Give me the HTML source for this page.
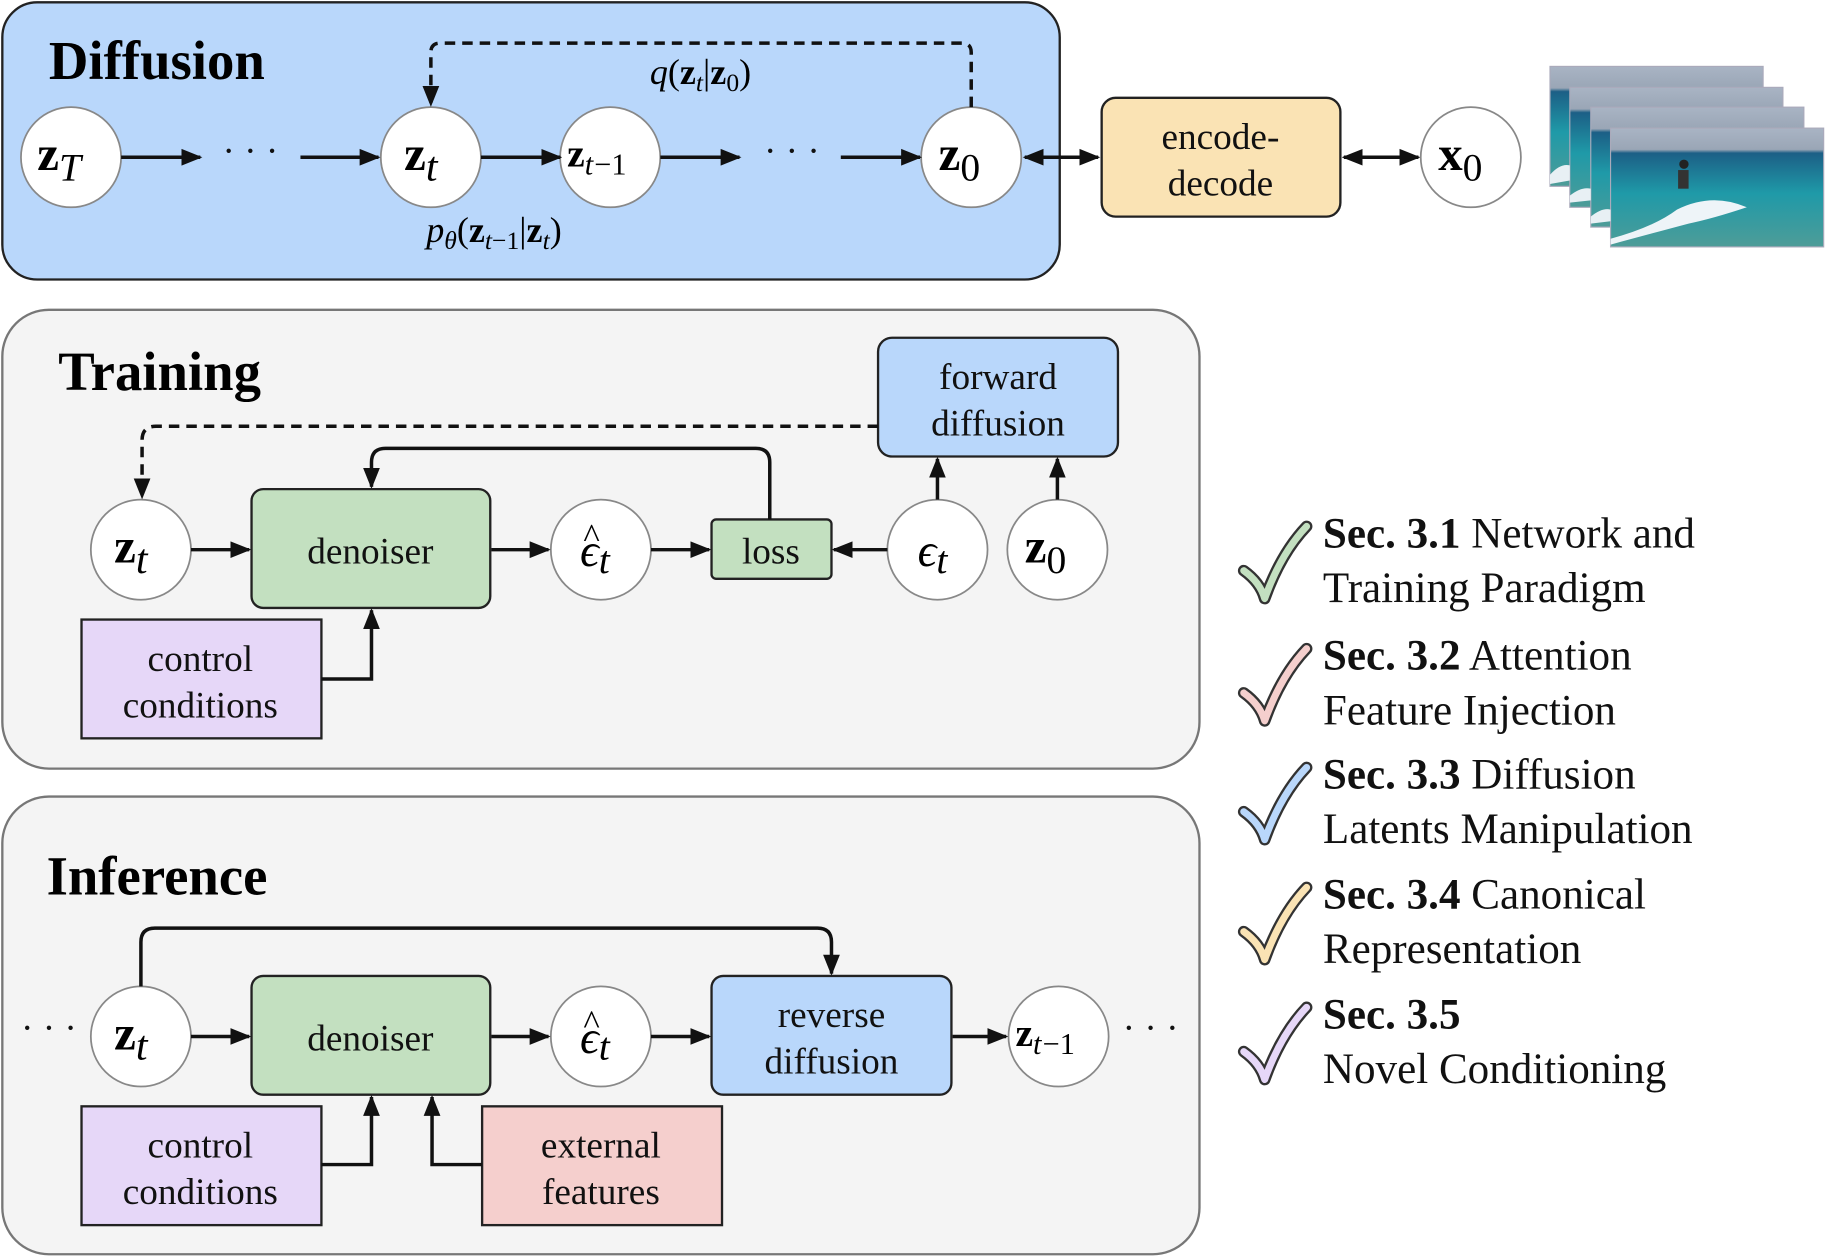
<!DOCTYPE html>
<html><head><meta charset="utf-8"><style>html,body{margin:0;padding:0;background:#fff}svg{display:block}</style></head>
<body>
<svg width="1826" height="1256" viewBox="0 0 1568 1078.5" xmlns="http://www.w3.org/2000/svg" font-family="Liberation Serif, serif">
<defs>
<marker id="a" viewBox="0 0 10 10" refX="9" refY="5" markerWidth="6" markerHeight="6" orient="auto-start-reverse"><path d="M0,1 L10,5 L0,9 z" fill="#111"/></marker>
<linearGradient id="sea" x1="0" y1="0" x2="0" y2="1">
<stop offset="0" stop-color="#a9b4c4"/><stop offset="0.18" stop-color="#9aa6b6"/><stop offset="0.21" stop-color="#1c5f86"/><stop offset="0.55" stop-color="#1f9aa8"/><stop offset="1" stop-color="#4e9c98"/></linearGradient>
</defs>
<style>
.c{fill:#fff;stroke:#888;stroke-width:1.5}
.l{stroke:#111;stroke-width:3;fill:none}
.t{font-size:32px;text-anchor:middle;fill:#111}
.m{font-size:42px;font-weight:bold}
</style>
<!-- Diffusion -->
<rect x="2" y="2" width="908" height="238" rx="30" fill="#b9d7fb" stroke="#222" stroke-width="2"/>
<text x="42" y="68" font-size="47" font-weight="bold">Diffusion</text>
<g class="c"><circle cx="61" cy="135" r="43"/><circle cx="370" cy="135" r="43"/><circle cx="524" cy="135" r="43"/><circle cx="834" cy="135" r="43"/></g>
<text x="32" y="146"><tspan class="m">z</tspan><tspan font-size="34" font-style="italic" dy="9">T</tspan></text>
<text x="347" y="146"><tspan class="m">z</tspan><tspan font-size="36" font-style="italic" dy="9">t</tspan></text>
<text x="487" y="143"><tspan font-size="34" font-weight="bold">z</tspan><tspan font-size="26" font-style="italic" dy="7">t</tspan><tspan font-size="26" dx="1">−1</tspan></text>
<text x="806" y="146"><tspan class="m">z</tspan><tspan font-size="34" dy="9">0</tspan></text>
<g class="l" marker-end="url(#a)"><line x1="104" y1="135" x2="172" y2="135"/><line x1="258" y1="135" x2="325" y2="135"/><line x1="413" y1="135" x2="481" y2="135"/><line x1="567" y1="135" x2="635" y2="135"/><line x1="722" y1="135" x2="790" y2="135"/></g>
<text x="215" y="140" class="t">· · ·</text><text x="680" y="140" class="t">· · ·</text>
<path d="M834,92 V45 Q834,37 826,37 H378 Q370,37 370,45 V90" class="l" stroke-dasharray="9,6" marker-end="url(#a)"/>
<text x="558" y="72" font-size="31"><tspan font-style="italic">q</tspan>(<tspan font-weight="bold">z</tspan><tspan font-size="22" font-style="italic" dy="6">t</tspan><tspan dy="-6">|</tspan><tspan font-weight="bold">z</tspan><tspan font-size="22" dy="6">0</tspan><tspan dy="-6">)</tspan></text>
<text x="366" y="208" font-size="31"><tspan font-style="italic">p</tspan><tspan font-size="22" font-style="italic" dy="6">θ</tspan><tspan dy="-6">(</tspan><tspan font-weight="bold">z</tspan><tspan font-size="22" font-style="italic" dy="6">t</tspan><tspan font-size="22">−1</tspan><tspan dy="-6">|</tspan><tspan font-weight="bold">z</tspan><tspan font-size="22" font-style="italic" dy="6">t</tspan><tspan dy="-6">)</tspan></text>
<line x1="880" y1="135" x2="943" y2="135" class="l" marker-start="url(#a)" marker-end="url(#a)"/>
<rect x="946" y="84" width="205" height="102" rx="12" fill="#fae3b4" stroke="#222" stroke-width="2"/>
<text x="1048" y="128" class="t">encode-</text><text x="1048" y="168" class="t">decode</text>
<line x1="1154" y1="135" x2="1218" y2="135" class="l" marker-start="url(#a)" marker-end="url(#a)"/>
<circle cx="1263" cy="135" r="43" class="c"/>
<text x="1235" y="146"><tspan class="m">x</tspan><tspan font-size="34" dy="9">0</tspan></text>
<g stroke="#aab" stroke-width="1">
<rect x="1331" y="57" width="183" height="103" fill="url(#sea)"/>
<rect x="1348" y="75" width="183" height="103" fill="url(#sea)"/>
<rect x="1366" y="92" width="183" height="103" fill="url(#sea)"/>
<rect x="1383" y="110" width="183" height="102" fill="url(#sea)"/>
</g>
<path d="M1331,150 Q1340,140 1348,142 V155 L1331,158z M1348,168 Q1358,160 1366,162 V172 L1348,174z M1366,186 Q1376,178 1383,180 V190 L1366,192z" fill="#e8f0f4"/>
<path d="M1383,205 Q1420,195 1440,180 Q1470,165 1500,178 Q1470,188 1450,192 Q1420,200 1383,210z" fill="#eef4f8"/>
<circle cx="1446" cy="141" r="4" fill="#222"/><rect x="1441" y="146" width="9" height="16" fill="#333"/>

<!-- Training -->
<rect x="2" y="266" width="1028" height="394" rx="40" fill="#f4f4f4" stroke="#777" stroke-width="2"/>
<text x="50" y="335" font-size="47" font-weight="bold">Training</text>
<rect x="754" y="290" width="206" height="102" rx="12" fill="#b9d7fb" stroke="#222" stroke-width="2"/>
<text x="857" y="334" class="t">forward</text><text x="857" y="374" class="t">diffusion</text>
<g class="c"><circle cx="121" cy="472" r="43"/><circle cx="516" cy="472" r="43"/><circle cx="805" cy="472" r="43"/><circle cx="908" cy="472" r="43"/></g>
<text x="98" y="483"><tspan class="m">z</tspan><tspan font-size="36" font-style="italic" dy="9">t</tspan></text>
<text x="498" y="486" font-size="40" font-style="italic">ϵ<tspan font-size="34" dy="6">t</tspan></text>
<text x="501" y="470" font-size="30">^</text>
<text x="788" y="486" font-size="40" font-style="italic">ϵ<tspan font-size="34" dy="6">t</tspan></text>
<text x="880" y="483"><tspan class="m">z</tspan><tspan font-size="34" dy="9">0</tspan></text>
<rect x="216" y="420" width="205" height="102" rx="10" fill="#c3e0c0" stroke="#222" stroke-width="2"/>
<text x="318" y="484" class="t">denoiser</text>
<rect x="611" y="446" width="103" height="51" rx="4" fill="#c3e0c0" stroke="#222" stroke-width="2"/>
<text x="662" y="484" class="t">loss</text>
<rect x="70" y="532" width="206" height="102" fill="#e6d7f8" stroke="#222" stroke-width="2"/>
<text x="172" y="576" class="t">control</text><text x="172" y="616" class="t">conditions</text>
<g class="l" marker-end="url(#a)">
<line x1="164" y1="472" x2="214" y2="472"/><line x1="422" y1="472" x2="471" y2="472"/><line x1="559" y1="472" x2="609" y2="472"/><line x1="762" y1="472" x2="716" y2="472"/>
<line x1="805" y1="429" x2="805" y2="394"/><line x1="908" y1="429" x2="908" y2="394"/>
<path d="M661,446 V397 Q661,385 649,385 H331 Q319,385 319,397 V418"/>
<path d="M276,583 H319 V524"/>
<path d="M754,366 H134 Q122,366 122,378 V427" stroke-dasharray="9,6"/>
</g>

<!-- Inference -->
<rect x="2" y="684" width="1028" height="393" rx="40" fill="#f4f4f4" stroke="#777" stroke-width="2"/>
<text x="40" y="768" font-size="47" font-weight="bold">Inference</text>
<text x="42" y="893" class="t">· · ·</text><text x="988" y="893" class="t">· · ·</text>
<g class="c"><circle cx="121" cy="890" r="43"/><circle cx="516" cy="890" r="43"/><circle cx="909" cy="890" r="43"/></g>
<text x="98" y="901"><tspan class="m">z</tspan><tspan font-size="36" font-style="italic" dy="9">t</tspan></text>
<text x="498" y="904" font-size="40" font-style="italic">ϵ<tspan font-size="34" dy="6">t</tspan></text>
<text x="501" y="888" font-size="30">^</text>
<text x="872" y="898"><tspan font-size="34" font-weight="bold">z</tspan><tspan font-size="26" font-style="italic" dy="7">t</tspan><tspan font-size="26" dx="1">−1</tspan></text>
<rect x="216" y="838" width="205" height="102" rx="10" fill="#c3e0c0" stroke="#222" stroke-width="2"/>
<text x="318" y="902" class="t">denoiser</text>
<rect x="611" y="838" width="206" height="102" rx="10" fill="#b9d7fb" stroke="#222" stroke-width="2"/>
<text x="714" y="882" class="t">reverse</text><text x="714" y="922" class="t">diffusion</text>
<rect x="70" y="950" width="206" height="102" fill="#e6d7f8" stroke="#222" stroke-width="2"/>
<text x="172" y="994" class="t">control</text><text x="172" y="1034" class="t">conditions</text>
<rect x="414" y="950" width="206" height="102" fill="#f5cfcd" stroke="#222" stroke-width="2"/>
<text x="516" y="994" class="t">external</text><text x="516" y="1034" class="t">features</text>
<g class="l" marker-end="url(#a)">
<line x1="164" y1="890" x2="214" y2="890"/><line x1="422" y1="890" x2="471" y2="890"/><line x1="559" y1="890" x2="609" y2="890"/><line x1="818" y1="890" x2="864" y2="890"/>
<path d="M121,847 V809 Q121,797 133,797 H702 Q714,797 714,809 V836"/>
<path d="M276,1000 H319 V942"/>
<path d="M414,1000 H371 V942"/>
</g>

<!-- checklist -->
<g stroke-linecap="round" stroke-linejoin="round" fill="none">
<g><path d="M1068,490 Q1082,500 1086,514 Q1100,475 1122,452" stroke="#333" stroke-width="10"/><path d="M1068,490 Q1082,500 1086,514 Q1100,475 1122,452" stroke="#c3e0c0" stroke-width="6"/></g>
<g transform="translate(0,105)"><path d="M1068,490 Q1082,500 1086,514 Q1100,475 1122,452" stroke="#333" stroke-width="10"/><path d="M1068,490 Q1082,500 1086,514 Q1100,475 1122,452" stroke="#f5cfcd" stroke-width="6"/></g>
<g transform="translate(0,207)"><path d="M1068,490 Q1082,500 1086,514 Q1100,475 1122,452" stroke="#333" stroke-width="10"/><path d="M1068,490 Q1082,500 1086,514 Q1100,475 1122,452" stroke="#b9d7fb" stroke-width="6"/></g>
<g transform="translate(0,310)"><path d="M1068,490 Q1082,500 1086,514 Q1100,475 1122,452" stroke="#333" stroke-width="10"/><path d="M1068,490 Q1082,500 1086,514 Q1100,475 1122,452" stroke="#fae3b4" stroke-width="6"/></g>
<g transform="translate(0,413)"><path d="M1068,490 Q1082,500 1086,514 Q1100,475 1122,452" stroke="#333" stroke-width="10"/><path d="M1068,490 Q1082,500 1086,514 Q1100,475 1122,452" stroke="#e6d7f8" stroke-width="6"/></g>
</g>
<g font-size="37" fill="#111">
<text x="1136" y="470"><tspan font-weight="bold">Sec. 3.1</tspan> Network and</text>
<text x="1136" y="517">Training Paradigm</text>
<text x="1136" y="575"><tspan font-weight="bold">Sec. 3.2</tspan> Attention</text>
<text x="1136" y="622">Feature Injection</text>
<text x="1136" y="677"><tspan font-weight="bold">Sec. 3.3</tspan> Diffusion</text>
<text x="1136" y="724">Latents Manipulation</text>
<text x="1136" y="780"><tspan font-weight="bold">Sec. 3.4</tspan> Canonical</text>
<text x="1136" y="827">Representation</text>
<text x="1136" y="883"><tspan font-weight="bold">Sec. 3.5</tspan></text>
<text x="1136" y="930">Novel Conditioning</text>
</g>
</svg>
</body></html>
